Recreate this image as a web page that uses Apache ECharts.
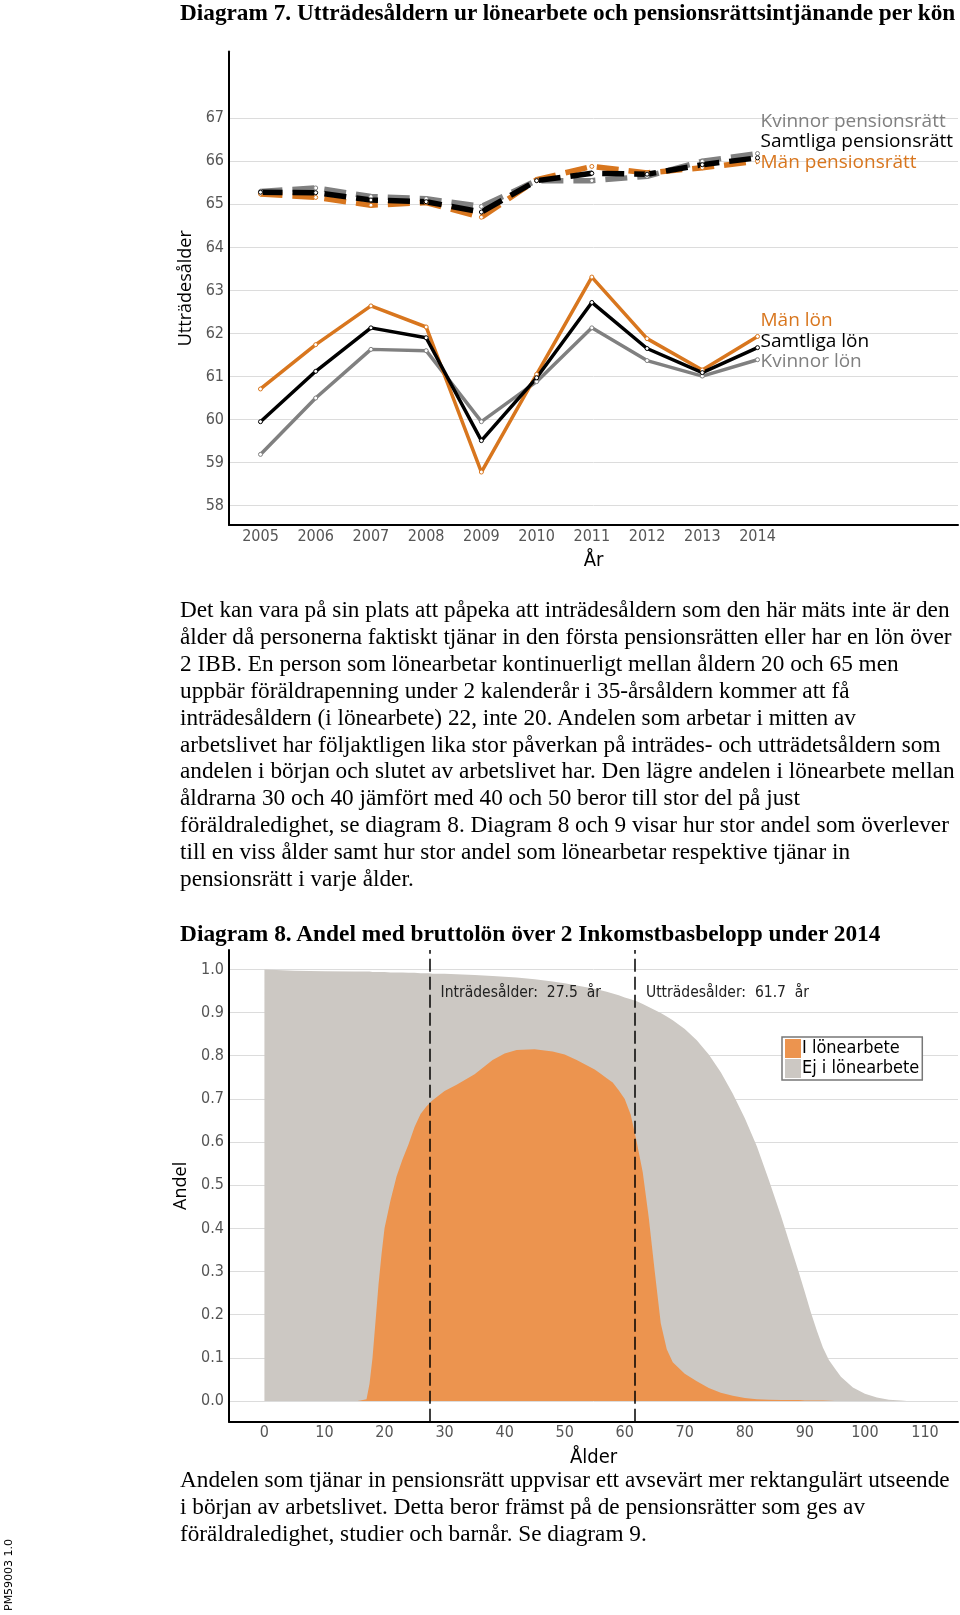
<!DOCTYPE html>
<html><head><meta charset="utf-8">
<script src="https://cdn.jsdelivr.net/npm/echarts@6/dist/echarts.min.js"></script>
<style>
html,body{margin:0;padding:0;background:#fff;}
#page{position:relative;width:960px;height:1615px;overflow:hidden;background:#fff;}
#chart{position:absolute;left:0;top:0;width:960px;height:1615px;}
.t{position:absolute;left:180px;font-family:'Liberation Serif','Times New Roman',serif;color:#000;white-space:pre;}
.h{font-weight:bold;font-size:21px;line-height:25px;}
.p{font-size:20px;line-height:26.9px;}
#pm{position:absolute;left:-26px;top:1569px;width:70px;height:14px;line-height:14px;text-align:center;font-family:'DejaVu Sans',sans-serif;font-size:11px;color:#000;transform:rotate(-90deg);white-space:nowrap;}
</style></head>
<body><div id="page"><div id="chart"></div>
<div class="t h" id="title1" style="top:0px"><span>Diagram 7. Utträdesåldern ur lönearbete och pensionsrättsintjänande per kön</span></div>
<div class="t p" id="para1" style="top:596px"><span>Det kan vara på sin plats att påpeka att inträdesåldern som den här mäts inte är den</span><br><span>ålder då personerna faktiskt tjänar in den första pensionsrätten eller har en lön över</span><br><span>2 IBB. En person som lönearbetar kontinuerligt mellan åldern 20 och 65 men</span><br><span>uppbär föräldrapenning under 2 kalenderår i 35-årsåldern kommer att få</span><br><span>inträdesåldern (i lönearbete) 22, inte 20. Andelen som arbetar i mitten av</span><br><span>arbetslivet har följaktligen lika stor påverkan på inträdes- och utträdetsåldern som</span><br><span>andelen i början och slutet av arbetslivet har. Den lägre andelen i lönearbete mellan</span><br><span>åldrarna 30 och 40 jämfört med 40 och 50 beror till stor del på just</span><br><span>föräldraledighet, se diagram 8. Diagram 8 och 9 visar hur stor andel som överlever</span><br><span>till en viss ålder samt hur stor andel som lönearbetar respektive tjänar in</span><br><span>pensionsrätt i varje ålder.</span></div>
<div class="t h" id="title2" style="top:921px"><span>Diagram 8. Andel med bruttolön över 2 Inkomstbasbelopp under 2014</span></div>
<div class="t p" id="para2" style="top:1466px"><span>Andelen som tjänar in pensionsrätt uppvisar ett avsevärt mer rektangulärt utseende</span><br><span>i början av arbetslivet. Detta beror främst på de pensionsrätter som ges av</span><br><span>föräldraledighet, studier och barnår. Se diagram 9.</span></div>
<div id="pm">PM59003 1.0</div>
</div>
<script>
// ---------- Diagram 7 data ----------
const years = [2005, 2006, 2007, 2008, 2009, 2010, 2011, 2012, 2013, 2014];
const lineTicks = [58, 59, 60, 61, 62, 63, 64, 65, 66, 67];
const manLon       = [60.71, 61.74, 62.64, 62.15, 58.78, 61.05, 63.31, 61.88, 61.15, 61.93];
const samtligaLon  = [59.95, 61.12, 62.13, 61.90, 59.51, 60.97, 62.72, 61.65, 61.09, 61.67];
const kvinnorLon   = [59.19, 60.50, 61.63, 61.60, 59.95, 60.88, 62.13, 61.37, 61.01, 61.39];
const manPension      = [65.24, 65.16, 64.98, 65.04, 64.70, 65.57, 65.88, 65.73, 65.85, 66.00];
const samtligaPension = [65.28, 65.27, 65.10, 65.06, 64.82, 65.55, 65.72, 65.70, 65.92, 66.08];
const kvinnorPension  = [65.30, 65.38, 65.18, 65.13, 64.95, 65.55, 65.55, 65.65, 66.00, 66.18];

// ---------- Diagram 8 data ----------
const ages = [0,5,10,15,15.5,16,17,17.5,18,18.5,19,19.5,20,21,22,23,24,25,26,27,27.5,28,30,32,35,38,40,42,45,48,50,52,55,56,57,58,59,60,61,62,63,64,65,66,67,68,70,72,74,76,78,80,82,84,86,88,89,90,91,92,93,94,95,96,98,100,102,104,106,107];
const survival = [1.0,0.997,0.996,0.995,0.995,0.995,0.995,0.995,0.994,0.994,0.994,0.994,0.994,0.993,0.993,0.993,0.992,0.992,0.991,0.991,0.991,0.99,0.99,0.989,0.987,0.985,0.983,0.981,0.977,0.972,0.968,0.963,0.955,0.952,0.948,0.944,0.94,0.935,0.931,0.926,0.92,0.913,0.906,0.899,0.891,0.882,0.862,0.836,0.803,0.762,0.712,0.655,0.59,0.512,0.43,0.342,0.298,0.252,0.205,0.163,0.124,0.095,0.075,0.056,0.031,0.017,0.008,0.003,0.001,0];
const employed = [0,0,0,0,0,0.001,0.004,0.04,0.1,0.185,0.27,0.34,0.40,0.465,0.52,0.56,0.595,0.635,0.665,0.683,0.69,0.697,0.718,0.733,0.757,0.79,0.805,0.813,0.815,0.81,0.803,0.79,0.768,0.758,0.748,0.738,0.72,0.70,0.663,0.60,0.53,0.425,0.30,0.18,0.12,0.09,0.063,0.046,0.03,0.019,0.012,0.007,0.004,0.003,0.002,0.002,0.002,0.001,0.001,0.001,0.001,0.0005,0,0,0,0,0,0,0,0];
const ageTicks = [0, 10, 20, 30, 40, 50, 60, 70, 80, 90, 100, 110];
const shareTicks = [0, 0.1, 0.2, 0.3, 0.4, 0.5, 0.6, 0.7, 0.8, 0.9, 1.0];
const entryAge = 27.5;
const exitAge = 61.7;

// ---------- styles ----------
const ORANGE = '#D8761E', BLACK = '#000000', GRAY = '#808080';
const AREA_OR = '#EC944F', AREA_GR = '#CCC8C3';
const tickFont = "'DejaVu Sans Condensed','DejaVu Sans',sans-serif";
const labFont = "'Open Sans','Noto Sans',sans-serif";

function pair(xs, ys) { return xs.map((x, i) => [x, ys[i]]); }

function lonSeries(name, vals, color, dy) {
  return {
    name, type: 'line', xAxisIndex: 0, yAxisIndex: 0,
    data: pair(years, vals),
    lineStyle: { color, width: 3.5 },
    itemStyle: { color: '#fff', borderColor: color, borderWidth: 1 },
    symbol: 'circle', symbolSize: 4, showSymbol: true,
    endLabel: { show: true, formatter: name, color, fontFamily: labFont, fontSize: 19, distance: 3, offset: [0, dy] },
    z: 3
  };
}
function penSeries(name, vals, color, dy) {
  return {
    name, type: 'line', xAxisIndex: 0, yAxisIndex: 0,
    data: pair(years, vals),
    lineStyle: { color, width: 5.5, type: [22, 10], cap: 'butt' },
    itemStyle: { color: '#fff', borderColor: color, borderWidth: 1 },
    symbol: 'circle', symbolSize: 4, showSymbol: true,
    endLabel: { show: true, formatter: name, color, fontFamily: labFont, fontSize: 19, distance: 3, offset: [0, dy] },
    z: 3
  };
}

const chart = echarts.init(document.getElementById('chart'), null, { renderer: 'canvas' });
const option = {
  animation: false,
  backgroundColor: 'transparent',
  grid: [
    { left: 229, top: 51.5, width: 729, height: 473.5, outerBoundsMode: 'none' },
    { left: 229, top: 950, width: 729, height: 471.7, outerBoundsMode: 'none' }
  ],
  legend: {
    data: ['I lönearbete', 'Ej i lönearbete'],
    left: 782, top: 1037, orient: 'vertical',
    icon: 'rect', itemWidth: 16, itemHeight: 19, itemGap: 1,
    padding: [2, 3], borderColor: '#777', borderWidth: 1.5, backgroundColor: '#fff',
    textStyle: { fontFamily: tickFont, fontSize: 18, color: '#000', padding: [0, 0, 0, -4] },
    selectedMode: false
  },
  xAxis: [
    {
      gridIndex: 0, type: 'value', min: 2004.43, max: 2017.63,
      axisLine: { show: true, onZero: false, lineStyle: { color: '#000', width: 2 } },
      axisTick: { show: false, customValues: years },
      axisLabel: { customValues: years, formatter: v => String(v), color: '#555', fontFamily: tickFont, fontSize: 16, margin: 4 },
      splitLine: { show: false },
      name: 'År', nameLocation: 'middle', nameGap: 26,
      nameTextStyle: { fontFamily: tickFont, fontSize: 20, color: '#000', verticalAlign: 'top' }
    },
    {
      gridIndex: 1, type: 'value', min: -5.9, max: 115.5,
      axisLine: { show: true, onZero: false, lineStyle: { color: '#000', width: 2 } },
      axisTick: { show: false, customValues: ageTicks },
      axisLabel: { customValues: ageTicks, formatter: v => String(v), color: '#555', fontFamily: tickFont, fontSize: 16, margin: 3 },
      splitLine: { show: false },
      name: 'Ålder', nameLocation: 'middle', nameGap: 26,
      nameTextStyle: { fontFamily: tickFont, fontSize: 20, color: '#000', verticalAlign: 'top' }
    }
  ],
  yAxis: [
    {
      gridIndex: 0, type: 'value', min: 57.55, max: 68.55,
      axisLine: { show: true, onZero: false, lineStyle: { color: '#000', width: 2 } },
      axisTick: { show: false, customValues: lineTicks },
      axisLabel: { customValues: lineTicks, formatter: v => String(v), color: '#555', fontFamily: tickFont, fontSize: 16, margin: 5 },
      splitLine: { show: true, lineStyle: { color: '#dcdcdc', width: 1 } },
      name: 'Utträdesålder', nameLocation: 'middle', nameGap: 26,
      nameTextStyle: { fontFamily: labFont, fontSize: 18, color: '#000' }
    },
    {
      gridIndex: 1, type: 'value', min: -0.048, max: 1.045,
      axisLine: { show: true, onZero: false, lineStyle: { color: '#000', width: 2 } },
      axisTick: { show: false, customValues: shareTicks },
      axisLabel: { customValues: shareTicks, formatter: v => v.toFixed(1), color: '#555', fontFamily: tickFont, fontSize: 16, margin: 5 },
      splitLine: { show: true, lineStyle: { color: '#dcdcdc', width: 1 } },
      name: 'Andel', nameLocation: 'middle', nameGap: 24,
      nameTextStyle: { fontFamily: labFont, fontSize: 18, color: '#000' }
    }
  ],
  series: [
    penSeries('Kvinnor pensionsrätt', kvinnorPension, GRAY, -32),
    penSeries('Män pensionsrätt', manPension, ORANGE, 1),
    penSeries('Samtliga pensionsrätt', samtligaPension, BLACK, -16),
    lonSeries('Kvinnor lön', kvinnorLon, GRAY, 2),
    lonSeries('Män lön', manLon, ORANGE, -16),
    lonSeries('Samtliga lön', samtligaLon, BLACK, -6),
    {
      name: 'Ej i lönearbete', type: 'line', xAxisIndex: 1, yAxisIndex: 1,
      data: pair(ages, survival), symbol: 'none', color: AREA_GR,
      itemStyle: { color: AREA_GR },
      lineStyle: { width: 0, color: AREA_GR },
      areaStyle: { color: AREA_GR, opacity: 1 },
      z: 2
    },
    {
      name: 'I lönearbete', type: 'line', xAxisIndex: 1, yAxisIndex: 1,
      data: pair(ages, employed), symbol: 'none', color: AREA_OR,
      itemStyle: { color: AREA_OR },
      lineStyle: { width: 0, color: AREA_OR },
      areaStyle: { color: AREA_OR, opacity: 1 },
      z: 3,
      markLine: {
        silent: true, symbol: ['none', 'none'], animation: false,
        lineStyle: { color: '#000', type: [13, 5], width: 1.5 },
        label: { show: false },
        data: [{ xAxis: entryAge }, { xAxis: exitAge }]
      },
      markPoint: {
        silent: true, symbol: 'circle', symbolSize: 0, animation: false,
        label: { show: true, position: 'right', distance: 11, color: '#222', fontFamily: tickFont, fontSize: 15.5 },
        data: [
          { coord: [entryAge, 0.945], label: { formatter: 'Inträdesålder:  ' + entryAge + '  år' } },
          { coord: [exitAge, 0.945], label: { formatter: 'Utträdesålder:  ' + exitAge + '  år' } }
        ]
      }
    }
  ]
};
chart.setOption(option);

// fit text blocks to the measured widths of the reference
function fit(blockId, target) {
  const block = document.getElementById(blockId);
  const span = block.querySelector('span');
  const fs = parseFloat(getComputedStyle(block).fontSize);
  const w = span.getBoundingClientRect().width;
  block.style.fontSize = (fs * target / w) + 'px';
}
fit('title1', 776);
fit('title2', 701);
fit('para1', 770);
fit('para2', 770);
</script>
</body></html>
